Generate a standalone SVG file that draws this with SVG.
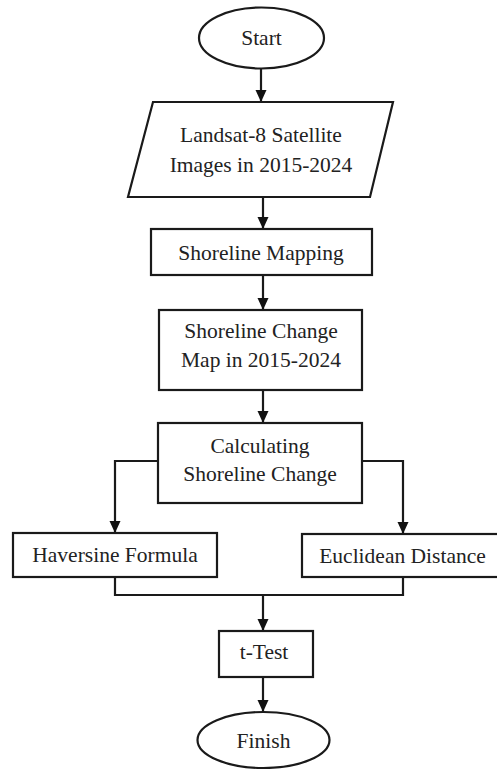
<svg xmlns="http://www.w3.org/2000/svg" width="497" height="769" viewBox="0 0 497 769">
<style>
.shape{fill:#ffffff;stroke:#1a1a1a;stroke-width:2.2}
.lbl{font-family:"Liberation Serif","Times New Roman",serif;font-size:21.5px;fill:#222222;text-anchor:middle}
.conn{fill:none;stroke:#1a1a1a;stroke-width:2.2}
</style>
<defs>
<marker id="arr" viewBox="0 0 12 12" markerWidth="12" markerHeight="12" refX="12" refY="6" orient="auto" markerUnits="userSpaceOnUse">
<path d="M0,0.5 L12,6 L0,11.5 Z" fill="#111111"/>
</marker>
</defs>
<rect width="497" height="769" fill="#ffffff"/>
<g id="connectors">
<path class="conn" d="M261,69 L261,102" marker-end="url(#arr)"/>
<path class="conn" d="M263,197 L263,229" marker-end="url(#arr)"/>
<path class="conn" d="M263,275 L263,310" marker-end="url(#arr)"/>
<path class="conn" d="M263,390 L263,423" marker-end="url(#arr)"/>
<path class="conn" d="M158,461 L115,461 L115,533" marker-end="url(#arr)"/>
<path class="conn" d="M362,461 L403,461 L403,534" marker-end="url(#arr)"/>
<path class="conn" d="M115,577 L115,595 L403,595 L403,577"/>
<path class="conn" d="M263,595 L263,631" marker-end="url(#arr)"/>
<path class="conn" d="M263,677 L263,712" marker-end="url(#arr)"/>
</g>
<g id="start">
<ellipse class="shape" cx="261.5" cy="38" rx="62.5" ry="30.5"/>
<text class="lbl" x="261.5" y="45">Start</text>
</g>
<g id="landsat">
<polygon class="shape" points="153,102 393,102 370,197 128,197"/>
<text class="lbl" x="261" y="142">Landsat-8 Satellite</text>
<text class="lbl" x="261" y="172">Images in 2015-2024</text>
</g>
<g id="mapping">
<rect class="shape" x="151" y="229" width="221" height="46"/>
<text class="lbl" x="261" y="260">Shoreline Mapping</text>
</g>
<g id="changemap">
<rect class="shape" x="159" y="310" width="203" height="80"/>
<text class="lbl" x="261" y="338">Shoreline Change</text>
<text class="lbl" x="261" y="367">Map in 2015-2024</text>
</g>
<g id="calculating">
<rect class="shape" x="158" y="423" width="204" height="80"/>
<text class="lbl" x="260" y="453">Calculating</text>
<text class="lbl" x="260" y="481">Shoreline Change</text>
</g>
<g id="haversine">
<rect class="shape" x="13" y="533" width="204" height="44"/>
<text class="lbl" x="115" y="562">Haversine Formula</text>
</g>
<g id="euclidean">
<rect class="shape" x="302" y="534" width="202" height="43"/>
<text class="lbl" x="402.5" y="563">Euclidean Distance</text>
</g>
<g id="ttest">
<rect class="shape" x="219" y="631" width="94" height="46"/>
<text class="lbl" x="264" y="659">t-Test</text>
</g>
<g id="finish">
<ellipse class="shape" cx="263.5" cy="740" rx="66" ry="28"/>
<text class="lbl" x="263.5" y="748">Finish</text>
</g>
</svg>
